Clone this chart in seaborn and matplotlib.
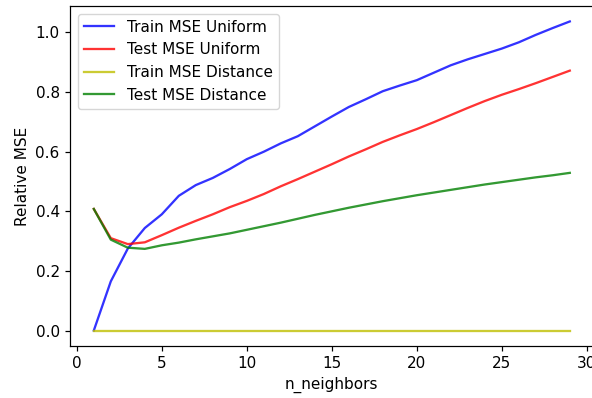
import seaborn as sns
import matplotlib.pyplot as plt
import pandas as pd

plt.rcParams['font.size'] = 11
plt.rcParams['axes.linewidth'] = 0.88
plt.rcParams['xtick.major.size'] = 3.9
plt.rcParams['ytick.major.size'] = 3.9
plt.rcParams['xtick.major.width'] = 0.88
plt.rcParams['ytick.major.width'] = 0.88

n_neighbors = list(range(1, 30))

train_uniform = [0.0, 0.165, 0.275, 0.344, 0.39, 0.452, 0.488, 0.512, 0.542, 0.575,
                 0.600, 0.628, 0.652, 0.685, 0.718, 0.750, 0.776, 0.803, 0.822, 0.840,
                 0.865, 0.890, 0.910, 0.928, 0.946, 0.967, 0.992, 1.015, 1.037]
test_uniform = [0.408, 0.31, 0.29, 0.296, 0.32, 0.345, 0.368, 0.39, 0.414, 0.435,
                0.458, 0.484, 0.508, 0.533, 0.558, 0.584, 0.608, 0.633, 0.655, 0.676,
                0.699, 0.723, 0.747, 0.770, 0.791, 0.810, 0.830, 0.851, 0.872]
train_distance = [0.0] * 29
test_distance = [0.408, 0.305, 0.278, 0.274, 0.286, 0.295, 0.306, 0.316, 0.326, 0.338,
                 0.350, 0.362, 0.375, 0.388, 0.400, 0.412, 0.423, 0.434, 0.444, 0.454,
                 0.463, 0.472, 0.481, 0.490, 0.498, 0.506, 0.514, 0.521, 0.529]

labels = ["Train MSE Uniform", "Test MSE Uniform", "Train MSE Distance", "Test MSE Distance"]
series = [train_uniform, test_uniform, train_distance, test_distance]

df = pd.concat([pd.DataFrame({"n_neighbors": n_neighbors, "Relative MSE": vals, "curve": lab})
                for lab, vals in zip(labels, series)], ignore_index=True)

palette = dict(zip(labels, ['b', 'r', 'y', 'g']))

fig = plt.figure(figsize=(5.92, 3.98), dpi=100)
# axes runs slightly past the right edge, as in the cropped reference
ax = fig.add_axes([70/592, 1 - 346/398, 523.6/592, 340/398])
sns.lineplot(data=df, x="n_neighbors", y="Relative MSE", hue="curve", palette=palette,
             alpha=0.8, linewidth=1.65, ax=ax)
ax.legend(title=None, loc="upper left")
ax.set_xlabel("n_neighbors")
ax.set_ylabel("Relative MSE")
plt.savefig("out.png", dpi=100)
